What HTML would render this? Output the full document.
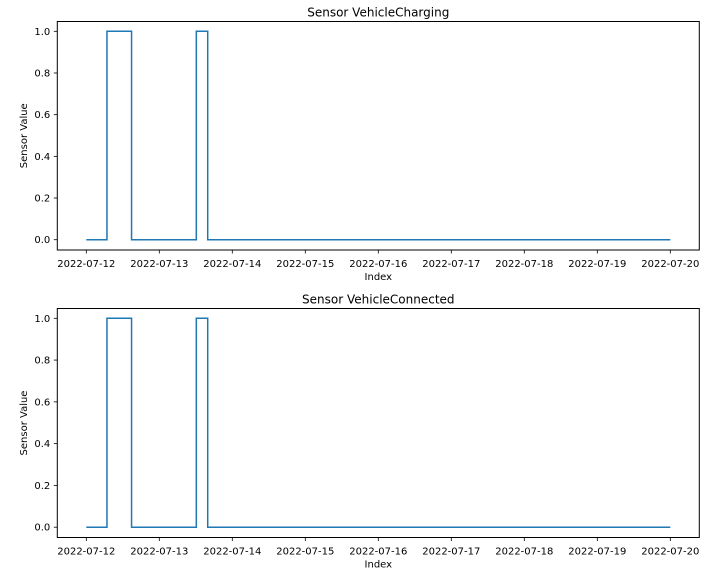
<!DOCTYPE html>
<html><head><meta charset="utf-8"><style>
html,body{margin:0;padding:0;background:#fff;width:716px;height:577px;overflow:hidden}
text{font-family:"DejaVu Sans","Liberation Sans",sans-serif;fill:#000}
</style></head><body>
<svg id="chart" width="716" height="577" viewBox="0 0 716 577" xmlns="http://www.w3.org/2000/svg"></svg>
<script>
const tickLabels = ["2022-07-12","2022-07-13","2022-07-14","2022-07-15","2022-07-16","2022-07-17","2022-07-18","2022-07-19","2022-07-20"];
const yTicks = [0.0, 0.2, 0.4, 0.6, 0.8, 1.0];
// time in days since 2022-07-12 00:00, value after that time (step)
const chargingTimes = [0, 0.283, 0.62, 1.507, 1.663, 8];
const chargingValues = [0, 1, 0, 1, 0, 0];
const connectedTimes = [0, 0.283, 0.62, 1.507, 1.663, 8];
const connectedValues = [0, 1, 0, 1, 0, 0];
const titles = ["Sensor VehicleCharging", "Sensor VehicleConnected"];

const svg = document.getElementById('chart');
const NS = "http://www.w3.org/2000/svg";
function mk(tag, attrs, parent){const e=document.createElementNS(NS,tag);for(const k in attrs)e.setAttribute(k,attrs[k]);(parent||svg).appendChild(e);return e;}

const L=57.3, R=699.3, x0=86.3, pxPerDay=73;
function xs(d){return x0+d*pxPerDay;}

function panel(top, bottom, title, times, values, idx){
  const g = mk('g',{});
  
  
  const yTop = top+9.8, yBot = bottom-10.3;
  const ys = v => yBot - v*(yBot-yTop);
  let d = '';
  for(let i=0;i<times.length;i++){
    const x=xs(times[i]);
    if(i===0) d+='M'+x+','+ys(values[0]);
    else { d+=' L'+x+','+ys(values[i-1]); d+=' L'+x+','+ys(values[i]); }
  }
  const p = mk('path',{d:d,fill:'none',stroke:'#1f77b4','stroke-width':1.5},g);
  
  
  const fr = mk('rect',{x:L,y:top,width:R-L,height:bottom-top,fill:'none',stroke:'#000','stroke-width':1},g);
  
  
  tickLabels.forEach((t,i)=>{
    const x=xs(i);
    mk('line',{x1:x,x2:x,y1:bottom,y2:bottom+3.5,stroke:'#000','stroke-width':0.8},g);
    const tx = mk('text',{x:x,y:bottom+17,'text-anchor':'middle','font-size':10},g);
    tx.textContent=t;
    
    
  });
  yTicks.forEach(v=>{
    const y=ys(v);
    mk('line',{x1:L,x2:L-3.5,y1:y,y2:y,stroke:'#000','stroke-width':0.8},g);
    const tx = mk('text',{x:L-7,y:y+3.5,'text-anchor':'end','font-size':10},g);
    tx.textContent=v.toFixed(1);
    
    
  });
  const tt = mk('text',{x:(L+R)/2,y:top-5,'text-anchor':'middle','font-size':12},g);
  tt.textContent=title;
  
  
  const xl = mk('text',{x:(L+R)/2,y:bottom+30,'text-anchor':'middle','font-size':10},g);
  xl.textContent='Index';
  
  
  const cy=(top+bottom)/2;
  const yl = mk('text',{x:27,y:cy,'text-anchor':'middle','font-size':10,transform:'rotate(-90 27 '+cy+')'},g);
  yl.textContent='Sensor Value';
  
  
}
panel(21.5, 250, titles[0], chargingTimes, chargingValues, 0);
panel(308.5, 537.5, titles[1], connectedTimes, connectedValues, 1);
</script>
</body></html>
